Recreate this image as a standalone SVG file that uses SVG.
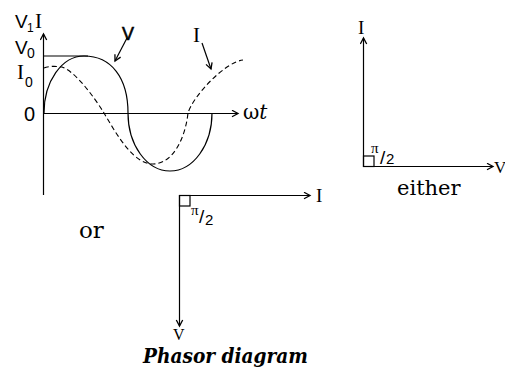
<svg xmlns="http://www.w3.org/2000/svg" width="505" height="371" viewBox="0 0 505 371">
<style>
.ln{stroke:#000;stroke-width:1.2;fill:none}
.dash{stroke:#000;stroke-width:1.1;fill:none;stroke-dasharray:5,3}
.sans{font-family:"Liberation Sans",Arial,sans-serif;fill:#000}
.ser{font-family:"Liberation Serif","Times New Roman",serif;fill:#000}
.bk{font-family:"DejaVu Serif",serif;fill:#000}
</style>
<defs>
<marker id="ah" markerUnits="userSpaceOnUse" markerWidth="12" markerHeight="12" refX="7" refY="4" orient="auto">
<path d="M1,0.8 L7,4 L1,7.2" fill="none" stroke="#000" stroke-width="1.3"/>
</marker>
</defs>
<rect width="505" height="371" fill="#fff"/>
<g id="graph">
<g id="axes">
<line class="ln" x1="43.5" y1="195" x2="43.5" y2="34" marker-end="url(#ah)"/>
<line class="ln" x1="43" y1="113.5" x2="238" y2="113.5" marker-end="url(#ah)"/>
<line class="ln" x1="43" y1="56" x2="88" y2="56"/>
</g>
<path id="v-curve" class="ln" d="M44,113 C44,81.5 61.9,56 84,56 C111.3,56 128,77.7 128,113 C128,145 146.8,171 170,171 C193.2,171 212,145 212,113"/>
<path id="i-curve" class="dash" d="M44,68 C48,66 56,66 62,67 C76,72 94,97 104,113 C118,137 134,164 153,164 C172,164 185,140 188,113 C193,96 225,62 243,60"/>
<g id="labels">
<text class="sans" x="15" y="28" font-size="19">V</text>
<text class="sans" x="27" y="32" font-size="12">1</text>
<text class="ser" x="35" y="28" font-size="21">I</text>
<text class="sans" x="15" y="54" font-size="19">V</text>
<text class="sans" x="27" y="58" font-size="14">0</text>
<text class="ser" x="17" y="79" font-size="21">I</text>
<text class="sans" x="25" y="87" font-size="14">0</text>
<text class="sans" x="24" y="121" font-size="20">0</text>
<text class="bk" x="243" y="119" font-size="20">ω<tspan font-style="italic">t</tspan></text>
</g>
<g id="v-label">
<text class="sans" x="122" y="40" font-size="18" stroke="#000" stroke-width="0.6">V</text>
<line class="ln" x1="127" y1="38" x2="115" y2="61" marker-end="url(#ah)"/>
</g>
<g id="i-label">
<text class="ser" x="193" y="42" font-size="21">I</text>
<line class="ln" x1="202" y1="43" x2="211" y2="69" marker-end="url(#ah)"/>
</g>
</g>
<g id="phasor-either">
<line class="ln" x1="363.5" y1="167" x2="363.5" y2="38" marker-end="url(#ah)"/>
<line class="ln" x1="363" y1="166.5" x2="493" y2="166.5" marker-end="url(#ah)"/>
<rect class="ln" x="363.5" y="156" width="10.5" height="10.5"/>
<text class="ser" x="358" y="34" font-size="19">I</text>
<text class="ser" x="494" y="173" font-size="17">V</text>
<text class="ser" x="371" y="153" font-size="15">π</text>
<text class="sans" x="380" y="164" font-size="19">/</text>
<text class="sans" x="386" y="164" font-size="15">2</text>
<text class="bk" x="397" y="195" font-size="21">either</text>
</g>
<g id="phasor-or">
<line class="ln" x1="179" y1="195.5" x2="310" y2="195.5" marker-end="url(#ah)"/>
<line class="ln" x1="179.5" y1="195" x2="179.5" y2="326" marker-end="url(#ah)"/>
<rect class="ln" x="179.5" y="195.5" width="10.5" height="10.5"/>
<text class="ser" x="316" y="202" font-size="19">I</text>
<text class="ser" x="173" y="340" font-size="16">V</text>
<text class="ser" x="191" y="215" font-size="15">π</text>
<text class="sans" x="199" y="223" font-size="19">/</text>
<text class="sans" x="205" y="225" font-size="15">2</text>
<text class="bk" x="79" y="238" font-size="23">or</text>
<text class="bk" x="143" y="363" font-size="20" font-weight="bold" font-style="italic" textLength="165" lengthAdjust="spacingAndGlyphs">Phasor diagram</text>
</g>
</svg>
